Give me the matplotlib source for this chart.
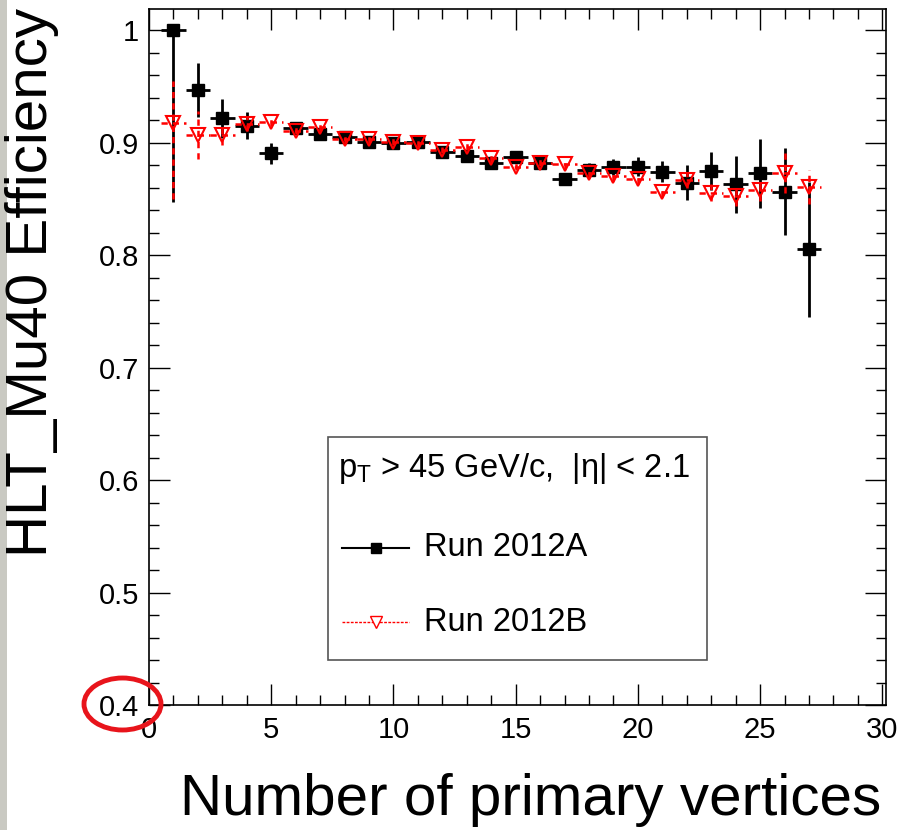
import numpy as np
import matplotlib
matplotlib.use("Agg")
import matplotlib.pyplot as plt
from matplotlib.lines import Line2D
from matplotlib.patches import Rectangle, Ellipse
from matplotlib.ticker import MultipleLocator, FuncFormatter

plt.rcParams["font.family"] = ["Liberation Sans", "DejaVu Sans"]
plt.rcParams["mathtext.fontset"] = "custom"
plt.rcParams["mathtext.rm"] = "Liberation Sans"
plt.rcParams["mathtext.it"] = "Liberation Sans"

# --- data ---
n_vtx = np.arange(1, 28)

eff_A = [1.000, 0.9467, 0.9215, 0.9147, 0.8904, 0.9126, 0.9076, 0.9046, 0.9007,
         0.8993, 0.9007, 0.8919, 0.8880, 0.8815, 0.8874, 0.8815, 0.8676, 0.8756,
         0.8785, 0.8785, 0.8740, 0.8643, 0.8749, 0.8628, 0.8726, 0.8563, 0.8051]
errA_lo = [0.153, 0.024, 0.0175, 0.012, 0.0093, 0.004, 0.005, 0.004, 0.003, 0.003,
           0.003, 0.003, 0.004, 0.004, 0.004, 0.004, 0.0055, 0.006, 0.007, 0.0085,
           0.0095, 0.0153, 0.017, 0.0252, 0.0305, 0.0385, 0.060]
errA_hi = [0.0] + errA_lo[1:]

eff_B = [0.9176, 0.9067, 0.9067, 0.9164, 0.9185, 0.9105, 0.9135, 0.9028, 0.9028,
         0.9007, 0.8993, 0.8933, 0.8963, 0.8860, 0.8785, 0.8820, 0.8809, 0.8726,
         0.8700, 0.8680, 0.8562, 0.8667, 0.8554, 0.8524, 0.8578, 0.8732, 0.8607]
errB_lo = [0.068, 0.021, 0.009, 0.006, 0.004, 0.003, 0.003, 0.003, 0.003, 0.003,
           0.003, 0.003, 0.003, 0.003, 0.003, 0.003, 0.004, 0.004, 0.004, 0.005,
           0.005, 0.007, 0.0077, 0.009, 0.010, 0.018, 0.015]
errB_hi = [0.037] + errB_lo[1:]

x_half = [0.5] * len(n_vtx)

header = r"p$_{\mathrm{T}}$ > 45 GeV/c,  |$\eta$| < 2.1"
label_A = "Run 2012A"
label_B = "Run 2012B"

W, H = 899, 830
fig = plt.figure(figsize=(W / 100, H / 100), dpi=100)
fig.patch.set_facecolor("white")

# textured strip at the left edge of the slide
fig.add_artist(Rectangle((0, 0), 7 / W, 1, transform=fig.transFigure,
                         facecolor="#c9c9c2", edgecolor="none"))

ax = fig.add_axes([149 / W, 1 - 705 / H, (886 - 149) / W, (705 - 9) / H])

# Run 2012A
ax.errorbar(n_vtx, eff_A, yerr=[errA_lo, errA_hi], xerr=x_half, fmt="s",
            color="black", ms=9, elinewidth=2.0, capsize=0, zorder=3)

# Run 2012B
eb = ax.errorbar(n_vtx, eff_B, yerr=[errB_lo, errB_hi], xerr=x_half, fmt="v",
                 color="red", mfc="none", mec="red", mew=1.5, ms=10,
                 elinewidth=1.8, capsize=0, zorder=4)
for lc in eb[2]:
    lc.set_linestyle((0, (2.5, 2.0)))

ax.set_xlim(0, 30.15)
ax.set_ylim(0.4, 1.0187)

ax.xaxis.set_major_locator(MultipleLocator(5))
ax.xaxis.set_minor_locator(MultipleLocator(1))
ax.yaxis.set_major_locator(MultipleLocator(0.1))
ax.yaxis.set_minor_locator(MultipleLocator(0.02))
ax.yaxis.set_major_formatter(FuncFormatter(lambda v, p: "1" if abs(v - 1) < 1e-6 else f"{v:.1f}"))

ax.tick_params(which="both", direction="in", top=True, right=True, width=1.0)
ax.tick_params(which="major", length=15, labelsize=21, pad=7)
ax.tick_params(which="minor", length=7.5)
ax.tick_params(axis="x", which="major", pad=8)
for s in ax.spines.values():
    s.set_linewidth(1.2)

# axis titles
fig.text(531 / W, 1 - 815 / H, "Number of primary vertices", fontsize=42,
         ha="center", va="baseline")
fig.text(32 / W, 1 - 282 / H, "HLT_Mu40 Efficiency", fontsize=42,
         rotation=90, ha="center", va="center")

# legend box
fig.add_artist(Rectangle((328 / W, 1 - 660 / H), (707 - 328) / W, (660 - 437) / H,
                         transform=fig.transFigure, facecolor="white",
                         edgecolor="#555555", lw=1.2, zorder=5))
fig.text(338 / W, 1 - 477 / H, header, fontsize=23.5, ha="left", va="baseline", zorder=6)
fig.add_artist(Line2D([342 / W, 375.5 / W, 409 / W], [1 - 548 / H] * 3,
                      transform=fig.transFigure, color="black", lw=1.5,
                      marker="s", ms=7, markevery=[1], zorder=6))
fig.add_artist(Line2D([342 / W, 375.5 / W, 409 / W], [1 - 622 / H] * 3,
                      transform=fig.transFigure, color="red", lw=1.0,
                      ls=(0, (2, 1)), marker="v", ms=8, mfc="white", mec="red",
                      markevery=[1], zorder=6))
fig.text(424 / W, 1 - 548 / H, label_A, fontsize=23.5, ha="left", va="center", zorder=6)
fig.text(424 / W, 1 - 622 / H, label_B, fontsize=23.5, ha="left", va="center", zorder=6)

# red highlight around the 0.4 label
fig.add_artist(Ellipse((122.5 / W, 1 - 704 / H), 77 / W, 52 / H,
                       transform=fig.transFigure, fill=False,
                       edgecolor="#e8141b", lw=3.5, zorder=10))

fig.savefig("out.png", dpi=100)
